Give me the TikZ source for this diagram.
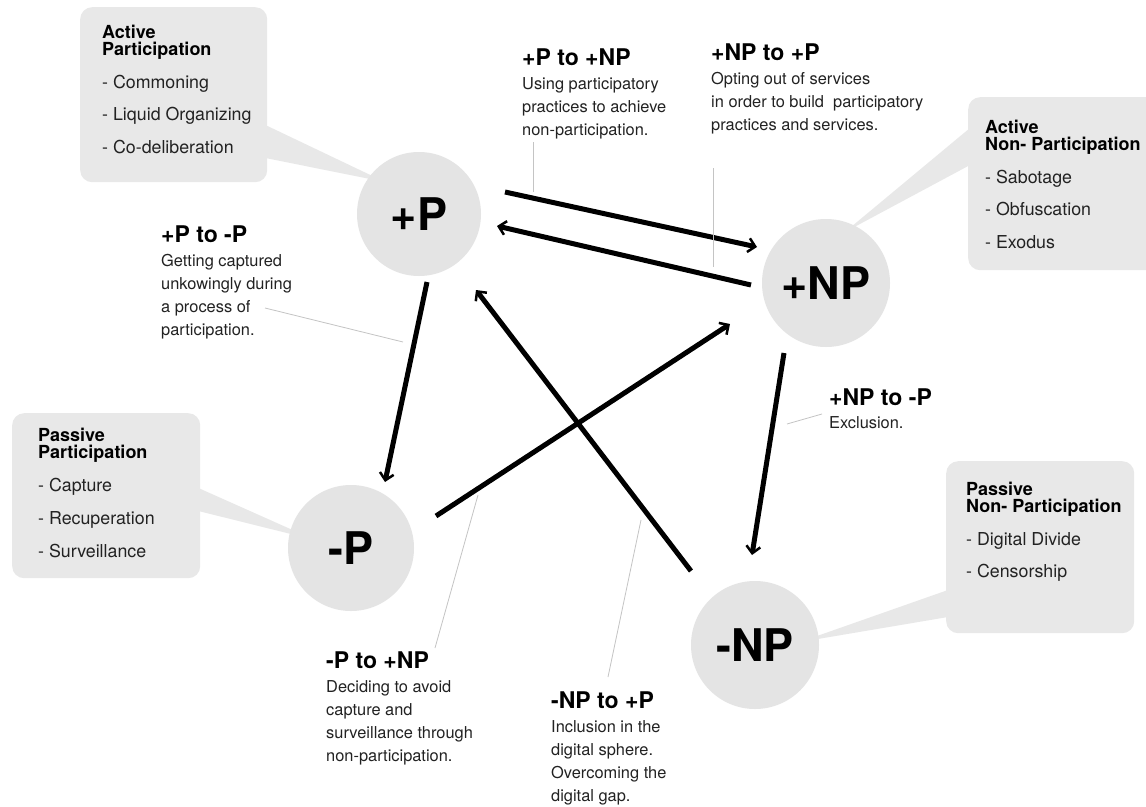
\documentclass[tikz,border=0pt]{standalone}
\usepackage{fontspec}
\setmainfont{TeX Gyre Heros}
\usetikzlibrary{arrows.meta,calc}
\definecolor{boxfill}{HTML}{E8E8E8}
\definecolor{circfill}{HTML}{E4E4E4}
\definecolor{leadercol}{HTML}{C4C4C4}
\definecolor{bodytext}{HTML}{222222}
\newcommand\myTH{\fontsize{23}{24}\selectfont\bfseries}
\newcommand\myTB{\fontsize{16.4}{23.3}\selectfont\mdseries\color{bodytext}}
\newcommand\myBH{\fontsize{18}{17}\selectfont\bfseries}
\newcommand\myBI{\fontsize{17.8}{33}\selectfont\mdseries\color{bodytext}}
\begin{document}
\begin{tikzpicture}[x=1pt,y=-1pt,
  callout/.style={rectangle, fill=boxfill, draw=none, rounded corners=12pt, inner sep=0pt, anchor=north west},
  circ/.style={circle, fill=circfill, draw=none, minimum size=126pt, inner sep=0pt, font=\fontsize{45}{45}\selectfont\bfseries},
  flow/.style={line width=5pt, -{Straight Barb[length=7pt,width=14pt,line width=2.5pt]}},
  leader/.style={draw=leadercol, line width=0.8pt},
  txt/.style={inner sep=0pt, anchor=base west, text=black}]
\useasboundingbox (0,0) rectangle (1146,806);
\clip (0,0) rectangle (1146,806);
\fill[white] (0,0) rectangle (1146,806);

% circle centres
\coordinate (cP) at (419,214);
\coordinate (cNP) at (826,283);
\coordinate (cmP) at (351,548);
\coordinate (cmNP) at (755,645);

% callout boxes
\node[callout, minimum width=187pt, minimum height=175pt] (bAP) at (80,7) {};
\node[callout, minimum width=192pt, minimum height=173pt] (bANP) at (968,97) {};
\node[callout, minimum width=188pt, minimum height=165pt] (bPP) at (12,413) {};
\node[callout, minimum width=188pt, minimum height=172pt] (bPNP) at (946,461) {};

% callout pointers
\fill[boxfill] ($(bAP.north east)+(-2,118)$) -- ($(bAP.north east)+(-2,151)$) -- ($(cP)+(-34,-32)$) -- cycle;
\fill[boxfill] ($(bANP.north west)+(2,31)$) -- ($(bANP.north west)+(2,68)$) -- ($(cNP)+(19,-51)$) -- cycle;
\fill[boxfill] ($(bPP.north east)+(-2,75)$) -- ($(bPP.north east)+(-2,98)$) -- ($(cmP)+(-36,-8)$) -- cycle;
\fill[boxfill] ($(bPNP.north west)+(2,129)$) -- ($(bPNP.north west)+(2,156)$) -- ($(cmNP)+(45,-3)$) -- cycle;

% circles
\node[circ, minimum size=124pt] (P) at (cP) {+P};
\node[circ, minimum size=128pt] (NP) at (cNP) {+NP};
\node[circ] (mP) at (cmP) {-P};
\node[circ, minimum size=128pt] (mNP) at (cmNP) {-NP};

% arrows
\draw[flow] ($(P)+(86,-22)$) -- ($(NP)+(-69,-36)$);
\draw[flow] ($(NP)+(-75,2)$) -- ($(P)+(78,12)$);
\draw[flow] ($(P)+(8,68)$) -- ($(mP)+(34,-66)$);
\draw[flow] ($(mP)+(85,-32)$) -- ($(NP)+(-96,41)$);
\draw[flow] ($(mNP)+(-64,-74)$) -- ($(P)+(57,76)$);
\draw[flow] ($(NP)+(-42,70)$) -- ($(mNP)+(-3,-90)$);

% leader lines
\coordinate (l1a) at (533,142); \coordinate (l1b) at (533,192);
\coordinate (l2a) at (713,168); \coordinate (l2b) at (713,267);
\coordinate (l3a) at (265,308); \coordinate (l3b) at (403,342);
\coordinate (l4a) at (822,414); \coordinate (l4b) at (787,424);
\coordinate (l5a) at (435,648); \coordinate (l5b) at (478,495);
\coordinate (l6a) at (608,677); \coordinate (l6b) at (641,520);
\draw[leader] (l1a) -- (l1b);
\draw[leader] (l2a) -- (l2b);
\draw[leader] (l3a) -- (l3b);
\draw[leader] (l4a) -- (l4b);
\draw[leader] (l5a) -- (l5b);
\draw[leader] (l6a) -- (l6b);

% box texts
\node[txt] (tAP) at (102,38) {\vtop{\myBH\hbox{Active}\hbox{Participation}\myBI\baselineskip=33pt\hbox{- Commoning}\baselineskip=32.5pt\hbox{- Liquid Organizing}\hbox{- Co-deliberation}}};
\node[txt] (tANP) at (985,133) {\vtop{\myBH\hbox{Active}\hbox{Non- Participation}\myBI\baselineskip=33pt\hbox{- Sabotage}\baselineskip=32.5pt\hbox{- Obfuscation}\hbox{- Exodus}}};
\node[txt] (tPP) at (38,441) {\vtop{\myBH\hbox{Passive}\hbox{Participation}\myBI\baselineskip=33pt\hbox{- Capture}\baselineskip=33pt\hbox{- Recuperation}\hbox{- Surveillance}}};
\node[txt] (tPNP) at (966,495) {\vtop{\myBH\hbox{Passive}\hbox{Non- Participation}\myBI\baselineskip=33pt\hbox{- Digital Divide}\baselineskip=32.5pt\hbox{- Censorship}}};

% transition labels
\node[txt] (t1) at (161,242) {\vtop{\myTH\hbox{+P to -P}\myTB\baselineskip=24pt\hbox{Getting captured}\baselineskip=23.3pt\hbox{unkowingly during}\hbox{a process of}\hbox{participation.}}};
\node[txt] (t2) at (522,65) {\vtop{\myTH\hbox{+P to +NP}\myTB\baselineskip=24pt\hbox{Using participatory}\baselineskip=23.3pt\hbox{practices to achieve}\hbox{non-participation.}}};
\node[txt] (t3) at (711,60) {\vtop{\myTH\hbox{+NP to +P}\myTB\baselineskip=24pt\hbox{Opting out of services}\baselineskip=23.3pt\hbox{in order to build\ \ participatory}\hbox{practices and services.}}};
\node[txt] (t4) at (829,405) {\vtop{\myTH\hbox{+NP to -P}\myTB\baselineskip=23.5pt\hbox{Exclusion.}}};
\node[txt] (t5) at (326,668) {\vtop{\myTH\hbox{-P to +NP}\myTB\baselineskip=24pt\hbox{Deciding to avoid}\baselineskip=23.3pt\hbox{capture and}\hbox{surveillance through}\hbox{non-participation.}}};
\node[txt] (t6) at (551,708) {\vtop{\myTH\hbox{-NP to +P}\myTB\baselineskip=24pt\hbox{Inclusion in the}\baselineskip=23pt\hbox{digital sphere.}\hbox{Overcoming the}\hbox{digital gap.}}};
\end{tikzpicture}
\end{document}
